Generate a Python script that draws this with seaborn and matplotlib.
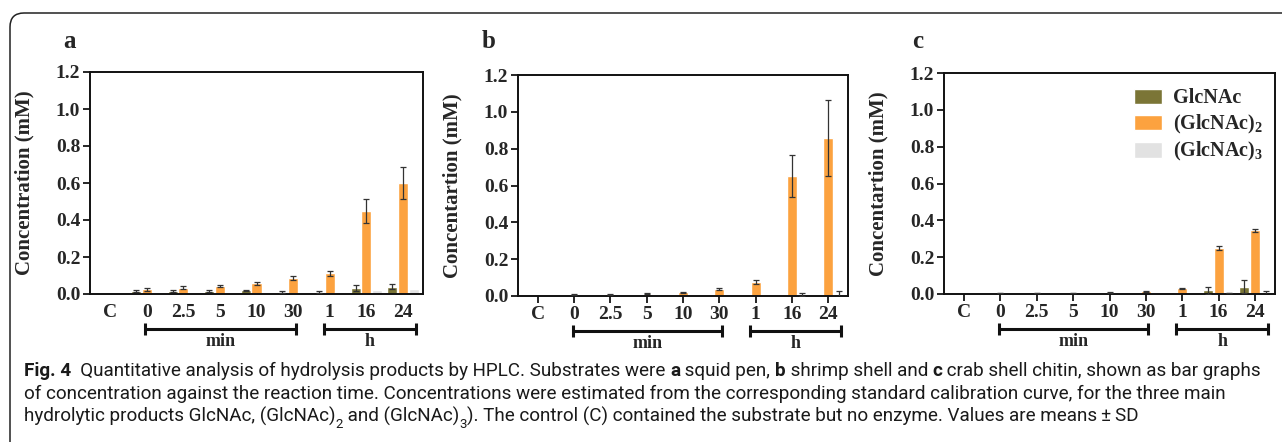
import matplotlib
matplotlib.use("Agg")
import matplotlib.pyplot as plt
import matplotlib.transforms as mtransforms
from matplotlib.patches import FancyBboxPatch
from matplotlib.font_manager import FontProperties
import seaborn as sns
import pandas as pd
import numpy as np

# ---- data ----
times = ["C", "0", "2.5", "5", "10", "30", "1", "16", "24"]
products = ["GlcNAc", "(GlcNAc)2", "(GlcNAc)3"]
legend_labels = ["GlcNAc", r"(GlcNAc)$_\mathbf{2}$", r"(GlcNAc)$_\mathbf{3}$"]

# panel a: squid pen
a_glc = [0, 0.018, 0.015, 0.015, 0.020, 0.010, 0.012, 0.032, 0.040]
a_glc_sd = [0, 0.005, 0.005, 0.004, 0.004, 0.004, 0.004, 0.015, 0.015]
a_di = [0, 0.025, 0.034, 0.044, 0.057, 0.087, 0.113, 0.448, 0.600]
a_di_sd = [0, 0.008, 0.008, 0.007, 0.008, 0.013, 0.013, 0.065, 0.088]
a_tri = [0, 0.002, 0.003, 0.004, 0.006, 0.006, 0.010, 0.020, 0.025]
a_tri_sd = [0, 0, 0, 0, 0, 0, 0, 0, 0]

# panel b: shrimp shell
b_glc = [0, 0.002, 0.002, 0.002, 0.002, 0.002, 0.003, 0.005, 0.005]
b_glc_sd = [0, 0, 0, 0, 0, 0, 0, 0, 0]
b_di = [0, 0.007, 0.010, 0.012, 0.020, 0.040, 0.075, 0.652, 0.857]
b_di_sd = [0, 0.002, 0.002, 0.003, 0.003, 0.006, 0.010, 0.115, 0.205]
b_tri = [0, 0.001, 0.002, 0.003, 0.003, 0.004, 0.004, 0.008, 0.010]
b_tri_sd = [0, 0, 0, 0, 0, 0, 0, 0.010, 0.015]

# panel c: crab shell chitin
c_glc = [0, 0, 0, 0, 0, 0, 0, 0.020, 0.040]
c_glc_sd = [0, 0, 0, 0, 0, 0, 0, 0.018, 0.035]
c_di = [0, 0.004, 0.005, 0.005, 0.008, 0.015, 0.030, 0.250, 0.345]
c_di_sd = [0, 0.001, 0.001, 0.001, 0.002, 0.003, 0.003, 0.010, 0.010]
c_tri = [0, 0, 0, 0, 0, 0, 0, 0.005, 0.003]
c_tri_sd = [0, 0, 0, 0, 0, 0, 0, 0.002, 0.012]

panels = [
    ("a", "Concentration (mM)", [a_glc, a_di, a_tri], [a_glc_sd, a_di_sd, a_tri_sd]),
    ("b", "Concentartion (mM)", [b_glc, b_di, b_tri], [b_glc_sd, b_di_sd, b_tri_sd]),
    ("c", "Concentartion (mM)", [c_glc, c_di, c_tri], [c_glc_sd, c_di_sd, c_tri_sd]),
]

palette = {"GlcNAc": "#7b7536", "(GlcNAc)2": "#fca23f", "(GlcNAc)3": "#e2e2e2"}

# ---- style ----
sns.set_style("ticks")
plt.rcParams.update({
    "font.family": ["Liberation Serif", "DejaVu Serif"],
    "font.weight": "bold",
    "axes.labelweight": "bold",
    "mathtext.fontset": "custom",
    "mathtext.rm": "Liberation Serif",
    "mathtext.bf": "Liberation Serif:bold",
    "axes.linewidth": 1.4,
    "axes.edgecolor": "#111111",
})

W, H = 1282, 442
fig = plt.figure(figsize=(W / 100, H / 100), dpi=100)

# axes boxes in pixel coords: left, right, top, bottom
boxes = [(90, 423, 72, 294), (518, 848, 75, 296), (944, 1275, 73, 294)]
letter_x = [70, 489, 918]

for k, (letter, ylab, vals, sds) in enumerate(panels):
    l, r, t, b = boxes[k]
    ax = fig.add_axes([l / W, (H - b) / H, (r - l) / W, (b - t) / H])

    df = pd.DataFrame({
        "time": np.tile(times, 3),
        "product": np.repeat(products, len(times)),
        "conc": np.concatenate(vals),
    })
    sns.barplot(data=df, x="time", y="conc", hue="product", order=times,
                hue_order=products, palette=palette, saturation=1,
                width=0.88, gap=0.06, errorbar=None, ax=ax, legend=(k == 2))

    # error bars (mean +/- SD) placed on the drawn bars
    bar_sets = list(ax.containers)
    for j, cont in enumerate(bar_sets):
        for i, p in enumerate(cont.patches):
            if sds[j][i] > 0:
                ax.errorbar(p.get_x() + p.get_width() / 2, p.get_height(),
                            yerr=sds[j][i], fmt="none", ecolor="#333333",
                            elinewidth=0.9, capsize=2.2, capthick=0.9, zorder=3)

    ax.set_xlim(-0.55, 8.55)
    ax.set_ylim(0, 1.2)
    ax.set_yticks(np.arange(0, 1.21, 0.2))
    ax.set_yticklabels([f"{v:.1f}" for v in np.arange(0, 1.21, 0.2)])
    ax.set_xlabel("")
    ax.set_ylabel(ylab, fontsize=15, fontweight="bold")
    ax.yaxis.set_label_coords(-0.168, 0.5)
    for s in ax.spines.values():
        s.set_visible(True)
        s.set_linewidth(1.4)
    ax.tick_params(axis="y", length=5, width=1.4, pad=2, labelsize=14)
    if k == 0:
        ax.tick_params(axis="x", length=0, pad=7, labelsize=14)
    else:
        ax.tick_params(axis="x", length=5, width=1.4, pad=2, labelsize=14)
    for lab in ax.get_xticklabels() + ax.get_yticklabels():
        lab.set_fontweight("bold")

    # min / h brackets under the axis
    tr = mtransforms.blended_transform_factory(ax.transData, ax.transAxes)
    yb, d = -0.158, 0.027
    for x0, x1, txt in [(0.96, 5.07, "min"), (5.84, 8.36, "h")]:
        ax.plot([x0, x0, np.nan, x0, x1, np.nan, x1, x1],
                [yb - d, yb + d, np.nan, yb, yb, np.nan, yb - d, yb + d],
                color="#111111", lw=2.2, transform=tr, clip_on=False,
                solid_capstyle="butt")
        ax.text((x0 + x1) / 2, yb - 0.058, txt, transform=tr, ha="center",
                va="center", fontsize=13, fontweight="bold")

    fig.text(letter_x[k] / W, (H - 42) / H, letter, fontsize=18,
             fontweight="bold", ha="center", va="center")

    if k == 2:
        handles, _ = ax.get_legend_handles_labels()
        ax.legend(handles[:3], legend_labels, loc="upper left",
                  bbox_to_anchor=(0.575, 0.93), frameon=False,
                  handlelength=1.35, handleheight=0.8,
                  handletextpad=0.55, labelspacing=0.22, borderpad=0,
                  borderaxespad=0, prop={"weight": "bold", "size": 14.5})

# ---- caption with mixed weights ----
renderer = fig.canvas.get_renderer()
cap_family = ["Roboto", "DejaVu Sans"]


def run_width(txt, size, weight):
    fp = FontProperties(family=cap_family, size=size, weight=weight)
    w1 = renderer.get_text_width_height_descent("|" + txt + "|", fp, ismath=False)[0]
    w0 = renderer.get_text_width_height_descent("||", fp, ismath=False)[0]
    return w1 - w0


N, B, S = "normal", "bold", "sub"
cap_lines = [
    [("Fig. 4", B), ("  Quantitative analysis of hydrolysis products by HPLC. Substrates were ", N),
     ("a", B), (" squid pen, ", N), ("b", B), (" shrimp shell and ", N), ("c", B),
     (" crab shell chitin, shown as bar graphs", N)],
    [("of concentration against the reaction time. Concentrations were estimated from the "
      "corresponding standard calibration curve, for the three main", N)],
    [("hydrolytic products GlcNAc, (GlcNAc)", N), ("2", S), (" and (GlcNAc)", N), ("3", S),
     ("). The control (C) contained the substrate but no enzyme. Values are means\u2009\u00b1\u2009SD", N)],
]


def line_width(runs, size):
    tot = 0
    for txt, kind in runs:
        if kind == S:
            tot += run_width(txt, size * 0.7, N)
        else:
            tot += run_width(txt, size, kind)
    return tot


base = 10.0
cap_size = base * 1246 / line_width(cap_lines[0], base)
baselines = [376, 399, 422]
for runs, yb in zip(cap_lines, baselines):
    x = 24.0
    for txt, kind in runs:
        if kind == S:
            # subscript: smaller and shifted down (pixels)
            size, weight, drop = cap_size * 0.7, N, cap_size * 0.3 * 100 / 72
        else:
            size, weight, drop = cap_size, kind, 0
        fig.text(x / W, (H - yb - drop) / H, txt, fontsize=size, fontweight=weight,
                 family=cap_family, ha="left", va="baseline", color="#1a1a1a")
        x += run_width(txt, size, weight)

# rounded frame around the figure (cut off on right and bottom)
frame = FancyBboxPatch((10, -40), 1400, H - 13 + 40,
                       boxstyle="round,pad=0,rounding_size=14",
                       transform=mtransforms.IdentityTransform(),
                       fill=False, lw=1.1, ec="#222222")
fig.add_artist(frame)

fig.savefig("out.png", dpi=100)
